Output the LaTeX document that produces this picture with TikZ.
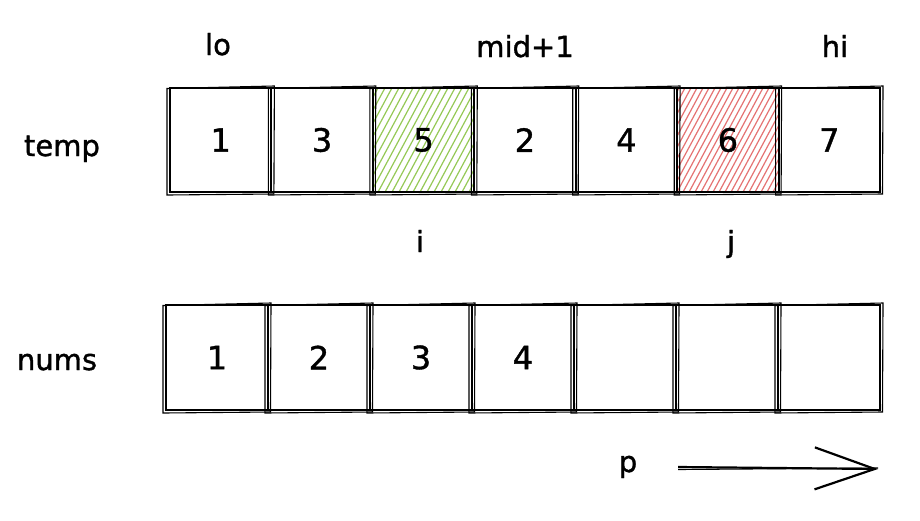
\documentclass[tikz,border=0pt]{standalone}
\usepackage{fontspec}
\setmainfont{DejaVu Sans}
\newfontfamily\handfont[FakeBold=1.2]{DejaVu Sans}
\usetikzlibrary{arrows.meta}
\definecolor{hgreen}{HTML}{96C957}
\definecolor{hred}{HTML}{E57373}
\begin{document}
\begin{tikzpicture}[x=1pt,y=-1pt,
  cell/.style={draw=black,line width=2pt,minimum width=101.4pt,minimum height=104pt,inner sep=0pt,font=\handfont\fontsize{32}{32}\selectfont},
  bcell/.style={cell,minimum width=102pt,minimum height=105pt},
  lbl/.style={font=\handfont\fontsize{29}{29}\selectfont,inner sep=0pt,anchor=base},
  rough/.style={line width=1.1pt},
  hatch/.style={line width=1.2pt}]
\useasboundingbox[fill=white] (0,0) rectangle (920,520);

% hatching
\begin{scope}
  \clip (373.4,88) rectangle (474.9,192);
  \foreach \x in {300,307,...,480} \draw[hgreen,hatch] (\x,194) -- ++(58,-108);
\end{scope}
\begin{scope}
  \clip (677.1,88) rectangle (778.6,192);
  \foreach \x in {604,610,...,784} \draw[hred,hatch] (\x,194) -- ++(58,-108);
\end{scope}

% temp row
\foreach \n/\x/\v in {1/220.7/1,2/322.1/3,3/423.6/5,4/525.0/2,5/626.4/4,6/727.9/6,7/829.3/7}
  \node[cell] (t\n) at (\x,140) {\v};
% nums row
\foreach \n/\x/\v in {1/217/1,2/319/2,3/421/3,4/523/4,5/625/,6/727/,7/829/}
  \node[bcell] (b\n) at (\x,357.5) {\v};

% second sketch strokes
\foreach \m in {t1,t2,t3,t4,t5,t6,t7,b1,b2,b3,b4,b5,b6,b7}
  \draw[rough] ([shift={(-2,1.5)}]\m.north west) -- ([shift={(2,-1)}]\m.north east)
     -- ([shift={(1.5,1)}]\m.south east) -- ([shift={(-2,2)}]\m.south west) -- cycle;

% labels
\node[lbl] (lo) at (218,55) {lo};
\node[lbl] (mid) at (525,57) {mid+1};
\node[lbl] (hi) at (835,57) {hi};
\node[lbl] (temp) at (62,156) {temp};
\node[lbl] (nums) at (57,370) {nums};
\node[lbl] (i) at (420,252) {i};
\node[lbl] (j) at (731,252) {j};
\node[lbl] (p) at (628,472) {p};

% arrow
\coordinate (ps) at (678,467);
\coordinate (pe) at (878,469);
\draw[line width=2.2pt,-{Straight Barb[length=60pt,width=42pt,line width=2.2pt]}] (ps) -- (pe);
\draw[rough] ([yshift=-2.5]ps) -- ([yshift=1]pe);
\end{tikzpicture}
\end{document}
